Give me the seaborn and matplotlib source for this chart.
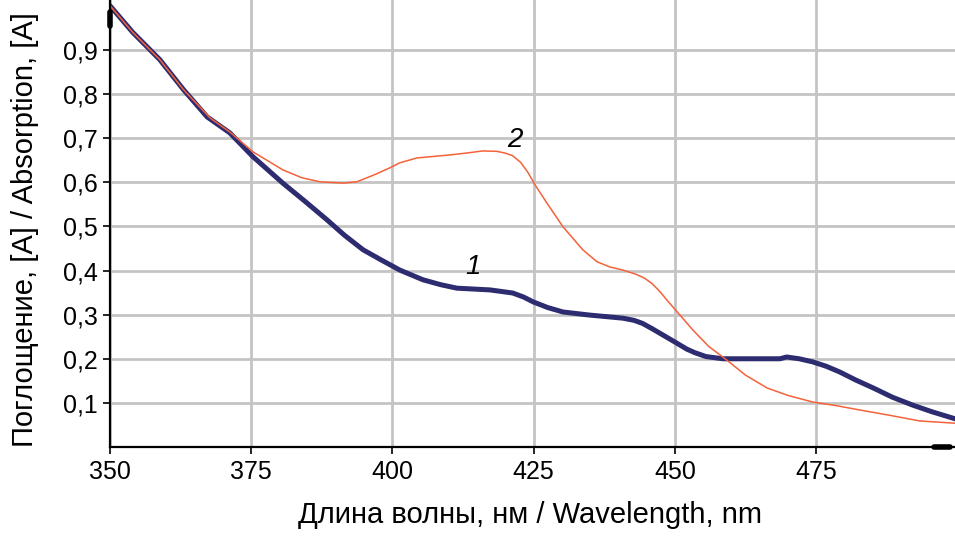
import matplotlib
matplotlib.use("Agg")
import matplotlib.pyplot as plt
import seaborn as sns
import pandas as pd

# Spectrum 1 (navy, thick)
wl_1 = [350, 354, 358.8, 363, 367.2, 371.2, 375.3, 380.6, 384.5, 388.4, 391.5, 394.8, 398,
        401.3, 405.4, 408.5, 411.4, 417.3, 421.3, 423.2, 424.9, 427.5, 430.2, 434.9, 440.8,
        442.8, 444.3, 446, 447.6, 450, 452.1, 453.5, 455.5, 458.5, 468.6, 469.8, 472,
        474.4, 476.8, 479.2, 482, 485.1, 488.5, 492.1, 495.5, 499.6]
abs_1 = [1.0, 0.94, 0.878, 0.81, 0.748, 0.712, 0.658, 0.598, 0.557, 0.515, 0.48, 0.447,
         0.424, 0.401, 0.379, 0.368, 0.36, 0.356, 0.349, 0.34, 0.329, 0.316, 0.306, 0.299,
         0.292, 0.287, 0.28, 0.268, 0.256, 0.238, 0.222, 0.214, 0.205, 0.2, 0.2, 0.204,
         0.2, 0.193, 0.183, 0.17, 0.152, 0.134, 0.113, 0.095, 0.08, 0.064]

# Spectrum 2 (orange-red, thin)
wl_2 = [350, 354, 358.8, 363, 367.7, 371.2, 375.3, 380.6, 384, 387.2, 391.3, 393.7, 397,
        399.6, 401.3, 404.3, 410.2, 413, 416, 418.5, 420, 421.3, 422.7, 424, 425.3, 427.5,
        430.2, 433.7, 436.2, 438.5, 440.8, 443, 444.6, 446, 447.3, 448.6, 450.5, 453.2, 456,
        459.2, 462.5, 466.3, 470, 474.4, 478.5, 482.7, 488, 493.4, 499.6]
abs_2 = [1.0, 0.94, 0.878, 0.81, 0.746, 0.714, 0.669, 0.628, 0.61, 0.601, 0.598, 0.601,
         0.618, 0.633, 0.644, 0.655, 0.662, 0.666, 0.671, 0.67, 0.666, 0.66, 0.645, 0.622,
         0.593, 0.55, 0.499, 0.447, 0.42, 0.408, 0.401, 0.392, 0.383, 0.37, 0.353, 0.333,
         0.305, 0.265, 0.228, 0.197, 0.163, 0.134, 0.117, 0.102, 0.094, 0.084, 0.072,
         0.059, 0.054]

x_ticks = [350, 375, 400, 425, 450, 475]
y_ticks = [0.1, 0.2, 0.3, 0.4, 0.5, 0.6, 0.7, 0.8, 0.9]
y_tick_labels = ["0,1", "0,2", "0,3", "0,4", "0,5", "0,6", "0,7", "0,8", "0,9"]

df = pd.concat([
    pd.DataFrame({"wl": wl_1, "A": abs_1, "curve": "1"}),
    pd.DataFrame({"wl": wl_2, "A": abs_2, "curve": "2"}),
])

sns.set_style("white")
plt.rcParams["font.family"] = ["Liberation Sans", "DejaVu Sans"]

fig = plt.figure(figsize=(9.55, 5.36), dpi=100)
ax = fig.add_axes([0.1152, 0.166, 0.8848, 0.834])

ax.grid(True, color="#c4c4c4", linewidth=2)
ax.set_axisbelow(True)

sns.lineplot(data=df, x="wl", y="A", hue="curve", size="curve",
             palette={"1": "#2d2c70", "2": "#f4623a"}, sizes={"1": 3.6, "2": 1.1},
             hue_order=["1", "2"], size_order=["1", "2"],
             sort=False, legend=False, ax=ax)

ax.set_xlim(350, 499.6)
ax.set_ylim(0, 1.013)
ax.set_xticks(x_ticks)
ax.set_yticks(y_ticks)
ax.set_yticklabels(y_tick_labels)
ax.set_xlabel("")
ax.set_ylabel("")
ax.tick_params(axis="both", labelsize=18, direction="out", length=5, width=1.2,
               color="black", labelcolor="black", bottom=True, left=True, pad=4)

for side in ["top", "right"]:
    ax.spines[side].set_visible(False)
for side in ["left", "bottom"]:
    ax.spines[side].set_color("black")
    ax.spines[side].set_linewidth(1.6)

# small cursor marks on the axes
ax.plot([350, 350], [0.955, 0.985], color="black", linewidth=4, clip_on=False)
ax.plot([495.8, 498.8], [0.0, 0.0], color="black", linewidth=4, clip_on=False)

ax.text(414.2, 0.408, "1", fontsize=20, style="italic", color="black",
        ha="center", va="center")
ax.text(421.7, 0.696, "2", fontsize=20, style="italic", color="black",
        ha="center", va="center")

fig.text(530 / 955, 1 - 515 / 536, "Длина волны, нм / Wavelength, nm", fontsize=21,
         color="black", ha="center", va="center")
fig.text(25 / 955, 1 - 230 / 536, "Поглощение, [A] / Absorption, [A]", fontsize=21,
         color="black", rotation=90, ha="center", va="center")

fig.savefig("out.png", dpi=100)
